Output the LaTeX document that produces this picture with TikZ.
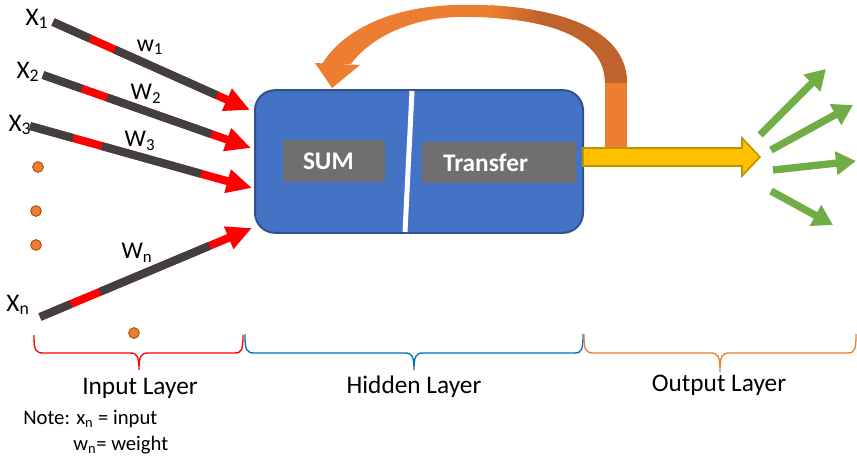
\documentclass[tikz,border=0pt]{standalone}
\usepackage{fontspec}
\setmainfont{Carlito}
\usetikzlibrary{arrows.meta,calc}

\definecolor{boxblue}{HTML}{4472C4}
\definecolor{boxedge}{HTML}{2F528F}
\definecolor{cellgrey}{HTML}{6F6F6F}
\definecolor{wiregrey}{HTML}{404040}
\definecolor{wirered}{HTML}{FF0000}
\definecolor{feedorange}{HTML}{ED7D31}
\definecolor{feeddark}{HTML}{C0622B}
\definecolor{dotedge}{HTML}{B05A1E}
\definecolor{outyellow}{HTML}{FFC000}
\definecolor{outedge}{HTML}{BF9000}
\definecolor{outgreen}{HTML}{70AD47}
\definecolor{hidblue}{HTML}{0070C0}

% curved band of the feedback arrow
\newcommand{\feedbackband}{(627,83) .. controls (627,15) and (520,3) .. (455,5)
  .. controls (390,7) and (343,30) .. (322,64) -- (351,64)
  .. controls (370,38) and (410,18) .. (458,17)
  .. controls (530,16) and (605,30) .. (605,83) -- cycle}

\begin{document}
\begin{tikzpicture}[x=0.75pt,y=-0.75pt,
  lbl/.style={font=\fontsize{19}{21}\selectfont, inner sep=0pt},
  wlbl/.style={font=\fontsize{18}{20}\selectfont, inner sep=0pt},
  layer/.style={font=\fontsize{19}{22}\selectfont, inner sep=0pt},
  note/.style={font=\fontsize{15.5}{18}\selectfont, inner sep=0pt, anchor=west},
  wirearrow/.style={draw=wirered, line width=6pt, -{Triangle[length=19pt,width=17pt,fill=wirered]}},
  wireseg/.style={draw=wiregrey, line width=6pt},
  dot/.style={circle, fill=feedorange, draw=dotedge, line width=0.8pt, minimum size=8pt, inner sep=0pt},
  hiddenbox/.style={draw=boxedge, fill=boxblue, line width=1.5pt, rounded corners=15pt,
    minimum width=246pt, minimum height=107pt, inner sep=0pt, outer sep=0pt},
  cell/.style={fill=cellgrey, text=white, font=\bfseries\fontsize{19}{22}\selectfont,
    align=left, inner ysep=0pt, outer sep=0pt},
  outarrow/.style={draw=outgreen, line width=5.5pt, -{Triangle[length=15pt,width=17pt,fill=outgreen]}},
  brace/.style={line width=1pt}
]
\useasboundingbox (0,0) rectangle (857,457);

% input labels and weights
\node[lbl] (x1) at (37,19) {X\textsubscript{1}};
\node[lbl] (x2) at (28,72) {X\textsubscript{2}};
\node[lbl] (x3) at (20,125) {X\textsubscript{3}};
\node[lbl] (xn) at (18,305) {X\textsubscript{n}};
\node[wlbl] (w1) at (150,47) {w\textsubscript{1}};
\node[wlbl] (w2) at (146,94) {W\textsubscript{2}};
\node[wlbl] (w3) at (140,141) {W\textsubscript{3}};
\node[wlbl] (wn) at (137,253) {W\textsubscript{n}};

% dots for the omitted inputs
\node[dot] (d1) at (38,167) {};
\node[dot] (d2) at (36,211) {};
\node[dot] (d3) at (36,245) {};
\node[dot] (d4) at (134,333) {};

% input wires: red arrow with grey overlay segments
\coordinate (s1) at (53,22);  \coordinate (e1) at (250,110);
\coordinate (s2) at (43,75);  \coordinate (e2) at (251,148);
\coordinate (s3) at (30,126); \coordinate (e3) at (252,188);
\coordinate (s4) at (40,317); \coordinate (e4) at (252,228);
\foreach \i/\a/\b/\c in {1/0.188/0.315/0.832, 2/0.1875/0.308/0.808,
                          3/0.194/0.324/0.77, 4/0.146/0.283/0.80}{
  \draw[wirearrow] (s\i) -- (e\i);
  \draw[wireseg] (s\i) -- ($(s\i)!\a!(e\i)$);
  \draw[wireseg] ($(s\i)!\b!(e\i)$) -- ($(s\i)!\c!(e\i)$);
}

% feedback arrow (bar, curved band, head)
\fill[feedorange] (605,83) rectangle (627,149);
\fill[feedorange] \feedbackband;
\begin{scope}
  \clip \feedbackband;
  \shade[left color=feedorange, right color=feeddark] (490,0) rectangle (540,90);
  \fill[feeddark] (539.5,0) rectangle (630,83);
\end{scope}
\fill[feedorange] (315,63) -- (360,65) -- (332,88) -- cycle;

% hidden layer block
\node[hiddenbox] (hidden) at (419,161.5) {};
\draw[white, line width=3.75pt] (412,91) -- (405,232);
\node[cell, inner xsep=15pt, text width=46.5pt, minimum height=31.5pt] (sum) at (334,161) {SUM};
\node[cell, inner xsep=15.75pt, text width=84pt, minimum height=30.75pt] (transfer) at (499,162.5) {Transfer};

% output block arrow
\draw[fill=outyellow, draw=outedge, line width=1.2pt]
  (hidden.east |- 0,148) -- (742,148) -- (742,138) -- (760,157) -- (742,176) -- (742,166)
  -- (hidden.east |- 0,166) -- cycle;

% output arrows
\coordinate (g1s) at (760,135); \coordinate (g1e) at (826,69);
\coordinate (g2s) at (771,150); \coordinate (g2e) at (853,105);
\coordinate (g3s) at (773,170); \coordinate (g3e) at (856,161);
\coordinate (g4s) at (771,191); \coordinate (g4e) at (833,225);
\foreach \i in {1,2,3,4}{ \draw[outarrow] (g\i s) -- (g\i e); }

% layer braces
\draw[brace, draw=wirered] (34,335) .. controls (34,350) and (35,353) .. (44,353) -- (130,353)
  .. controls (137,353) and (139,356) .. (139,370) .. controls (139,356) and (141,353) .. (148,353)
  -- (234,353) .. controls (242,353) and (243,350) .. (243,335);
\draw[brace, draw=hidblue] (245,334) .. controls (245,350) and (246,353) .. (255,353) -- (405,353)
  .. controls (412,353) and (414,356) .. (414,370) .. controls (414,356) and (416,353) .. (423,353)
  -- (574,353) .. controls (582,353) and (583,350) .. (583,334);
\draw[brace, draw=feedorange] (584,334) .. controls (584,350) and (585,353) .. (594,353) -- (711,353)
  .. controls (718,353) and (720,356) .. (720,372) .. controls (720,356) and (722,353) .. (729,353)
  -- (847,353) .. controls (855,353) and (856,350) .. (856,334);

% layer captions and note
\node[layer] (inlayer) at (140,388) {Input Layer};
\node[layer] (hidlayer) at (414,387) {Hidden Layer};
\node[layer] (outlayer) at (719,385) {Output Layer};
\node[note] (note1) at (23,419) {Note: x\textsubscript{n} = input};
\node[note] (note2) at (73,445) {w\textsubscript{n}= weight};
\end{tikzpicture}
\end{document}
